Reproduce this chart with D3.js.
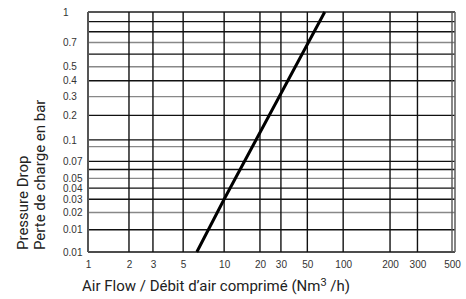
<!DOCTYPE html>
<meta charset="utf-8">
<style>
    body {
        margin:0;
        background:#fff;
    }
    .axis text {
        font:10px 'Liberation Sans', Arial, sans-serif;
        fill:#333;
    }
    .title {
        font:15px Roboto, sans-serif;
        fill:#222;
    }
</style>
<body>
<script src="https://cdn.jsdelivr.net/npm/d3@7"></script>
<script>
// chart data
var xTicks = [1, 2, 3, 5, 10, 20, 30, 50, 100, 200, 300, 500];
var yGrid = [1, 0.9, 0.8, 0.7, 0.6, 0.5, 0.4, 0.3, 0.2, 0.1,
             0.09, 0.07, 0.06, 0.05, 0.04, 0.03, 0.02, 0.01, 0.005];
var yGray = [0.7, 0.5, 0.3, 0.09, 0.05, 0.02];
var yTicks = [1, 0.7, 0.5, 0.4, 0.3, 0.2, 0.1, 0.07, 0.05, 0.04, 0.03, 0.02, 0.01, 0.005];
var yTickLabels = ["1", "0.7", "0.5", "0.4", "0.3", "0.2", "0.1", "0.07",
                   "0.05", "0.04", "0.03", "0.02", "0.01", "0.01"];
var flow = [6.3, 10, 70];      // Nm3/h
var drop = [0.005, 0.03, 1];   // bar

var width = 466, height = 299;
var margin = {top: 12, left: 88};
var w = 364, h = 240;

var svg = d3.select("body").append("svg")
    .attr("width", width)
    .attr("height", height);

var g = svg.append("g")
    .attr("transform", "translate(" + margin.left + "," + margin.top + ")");

// log per decade on x, sqrt inside each decade on y (as the printed grid)
var x = d3.scaleLog()
    .domain([1, 10, 100, 500])
    .range([0, 0.374, 0.701, 1].map(function(f) { return f * w; }));

var y = d3.scaleSqrt()
    .domain([0.005, 0.01, 0.1, 1])
    .range([1, 0.907, 0.533, 0].map(function(f) { return f * h; }));

// horizontal grid
g.selectAll(".hgrid")
    .data(yGrid)
  .enter().append("line")
    .attr("class", "hgrid")
    .attr("x1", 0)
    .attr("x2", w + 3)
    .attr("y1", function(d) { return y(d); })
    .attr("y2", function(d) { return y(d); })
    .attr("stroke", function(d) {
        if (d === 1) return "#555";
        return yGray.indexOf(d) >= 0 ? "#888" : "#111";
    })
    .attr("stroke-width", function(d) { return d === 1 ? 2 : 1.4; });

// vertical grid
g.selectAll(".vgrid")
    .data(xTicks)
  .enter().append("line")
    .attr("class", "vgrid")
    .attr("x1", function(d) { return x(d); })
    .attr("x2", function(d) { return x(d); })
    .attr("y1", 0)
    .attr("y2", h)
    .attr("stroke", function(d) { return d === 1 || d === 500 ? "#555" : "#111"; })
    .attr("stroke-width", function(d) { return d === 1 ? 2 : 1.4; });

// double right edge
g.append("line")
    .attr("x1", w + 3).attr("x2", w + 3)
    .attr("y1", 0).attr("y2", h)
    .attr("stroke", "#666")
    .attr("stroke-width", 1.6);

// axes
var xAxis = g.append("g")
    .attr("class", "axis")
    .attr("transform", "translate(0," + h + ")")
    .call(d3.axisBottom(x).tickValues(xTicks).tickFormat(d3.format("d"))
        .tickSize(0).tickPadding(9));
xAxis.select(".domain").remove();

var yAxis = g.append("g")
    .attr("class", "axis")
    .call(d3.axisLeft(y).tickValues(yTicks)
        .tickFormat(function(d, i) { return yTickLabels[i]; })
        .tickSize(0));
yAxis.select(".domain").remove();
yAxis.selectAll("text")
    .attr("x", -25)
    .attr("text-anchor", "start");

// pressure drop curve
var line = d3.line()
    .x(function(d) { return x(d[0]); })
    .y(function(d) { return y(d[1]); });

g.append("path")
    .datum(d3.zip(flow, drop))
    .attr("d", line)
    .attr("fill", "none")
    .attr("stroke", "#000")
    .attr("stroke-width", 3);

// titles
var xt = svg.append("text")
    .attr("class", "title")
    .attr("x", 82)
    .attr("y", 291);
xt.append("tspan").text("Air Flow / Débit d\u2019air comprimé (Nm");
xt.append("tspan").attr("dy", -5).style("font-size", "11px").text("3");
xt.append("tspan").attr("dy", 5).text(" /h)");

var yt = svg.append("g")
    .attr("transform", "translate(0,250) rotate(-90)");
yt.append("text")
    .attr("class", "title")
    .attr("y", 28)
    .text("Pressure Drop");
yt.append("text")
    .attr("class", "title")
    .attr("y", 45)
    .text("Perte de charge en bar");
</script>
</body>
